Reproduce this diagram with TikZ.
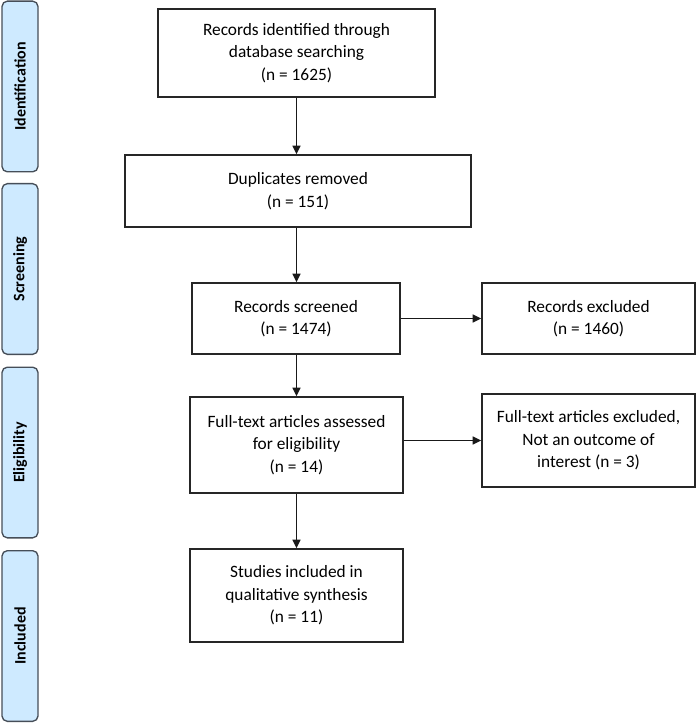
\documentclass[tikz,border=0pt]{standalone}
\usepackage{fontspec}
\setmainfont{Carlito}
\usetikzlibrary{arrows.meta}

\definecolor{stagefill}{RGB}{206,234,255}
\definecolor{stageline}{RGB}{70,78,88}

\tikzset{
  stage/.style={draw=stageline, fill=stagefill, line width=1pt, rounded corners=4pt,
    rotate=90, minimum width=128pt, minimum height=27pt, inner sep=0pt,
    font=\fontsize{12}{14}\selectfont\bfseries},
  box/.style={draw=black!85, line width=1.1pt, align=center, inner sep=2pt,
    font=\fontsize{13}{16.8}\selectfont},
  flow/.style={->, line width=1.1pt, black!90},
}

\begin{document}
\begin{tikzpicture}[x=0.75pt, y=-0.75pt, >={Triangle[length=6.5pt,width=6pt]}]
    \useasboundingbox (0,0) rectangle (696,723);

    % stages on the left
    \foreach \name/\ypos/\label in {stageid/86.5/Identification, stagescr/269/Screening,
                                    stageeli/452.5/Eligibility, stageinc/636/Included}{
        \node [stage] (\name) at (20,\ypos) {\label};
    }

    % main column
    \node [box, minimum width=207.75pt, minimum height=66pt] (found) at (296.5,53)
        {Records identified through\\database searching\\(n = 1625)};
    \node [box, minimum width=259.5pt, minimum height=54pt] (dups) at (298,191)
        {Duplicates removed\\(n = 151)};
    \node [box, minimum width=156pt, minimum height=53.25pt] (screened) at (296,318.5)
        {Records screened\\(n = 1474)};
    \node [box, minimum width=159.75pt, minimum height=72pt] (assessed) at (296.5,445)
        {Full-text articles assessed\\for eligibility\\(n = 14)};
    \node [box, minimum width=159.75pt, minimum height=69.75pt] (included) at (296.5,595.5)
        {Studies included in\\qualitative synthesis\\(n = 11)};

    % exclusions
    \node [box, minimum width=159.75pt, minimum height=53.25pt] (excluded) at (588.5,318.5)
        {Records excluded\\(n = 1460)};
    \node [box, minimum width=159.75pt, minimum height=69.75pt] (ftexcluded) at (588.5,440.5)
        {Full-text articles excluded,\\Not an outcome of\\interest (n = 3)};

    \draw [flow] (found.south) -- (found.south |- dups.north);
    \draw [flow] (found.south |- dups.south) -- (found.south |- screened.north);
    \draw [flow] (found.south |- screened.south) -- (found.south |- assessed.north);
    \draw [flow] (found.south |- assessed.south) -- (found.south |- included.north);
    \draw [flow] (screened) -- (excluded);
    \draw [flow] (assessed.east |- ftexcluded.west) -- (ftexcluded.west);
\end{tikzpicture}
\end{document}
